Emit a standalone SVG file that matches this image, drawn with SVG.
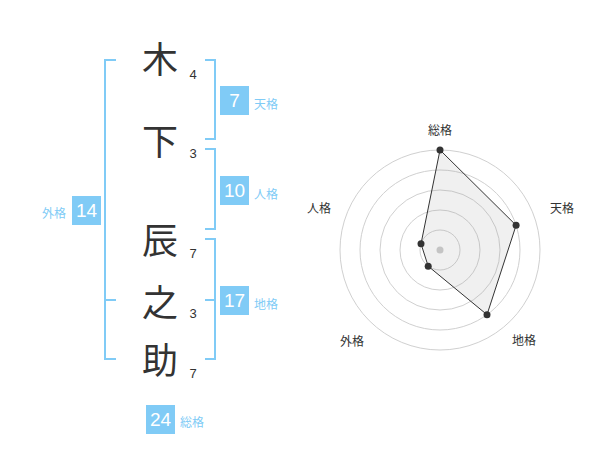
<svg xmlns="http://www.w3.org/2000/svg" width="600" height="470" viewBox="0 0 600 470">
<style>
.br{fill:none;stroke:#80cbf6;stroke-width:2}
.box{fill:#80cbf6}
.bn{font-family:"Liberation Sans",Arial,sans-serif;font-size:19px;fill:#fff;text-anchor:middle}
.lb{font-family:"Noto Sans CJK JP","Noto Sans CJK SC",sans-serif;font-size:12px;fill:#80cbf6}
.kj{font-family:"Noto Sans CJK JP","Noto Sans CJK SC",sans-serif;font-size:36px;fill:#333;text-anchor:middle}
.st{font-family:"Liberation Sans",Arial,sans-serif;font-size:13px;fill:#333;text-anchor:middle}
.rl{font-family:"Noto Sans CJK JP","Noto Sans CJK SC",sans-serif;font-size:12px;fill:#333;text-anchor:middle}
.ring{fill:none;stroke:#d0d0d0;stroke-width:1}
.pt{fill:#333}
</style>
<rect width="600" height="470" fill="#fff"/>
<g id="connectors">
<path class="br" d="M116,60 H105 V359 H116 M105,300 H116"/>
<path class="br" d="M205,60 H215 V139 H205"/>
<path class="br" d="M205,149 H215 V229 H205"/>
<path class="br" d="M205,239 H215 V359 H205 M215,300 H205"/>
</g>
<g id="name-chars">
<g id="c1"><text class="kj" x="160" y="73">木</text><text class="st" x="193" y="79">4</text></g>
<g id="c2"><text class="kj" x="160" y="155">下</text><text class="st" x="193" y="158">3</text></g>
<g id="c3"><text class="kj" x="160" y="254">辰</text><text class="st" x="193" y="258">7</text></g>
<g id="c4"><text class="kj" x="160" y="316">之</text><text class="st" x="193" y="318">3</text></g>
<g id="c5"><text class="kj" x="160" y="374">助</text><text class="st" x="193" y="378">7</text></g>
</g>
<g id="tenkaku"><rect class="box" x="220" y="86" width="29" height="29"/><text class="bn" x="234.5" y="107">7</text><text class="lb" x="254" y="108.5">天格</text></g>
<g id="jinkaku"><rect class="box" x="220" y="176" width="29" height="29"/><text class="bn" x="234.5" y="197">10</text><text class="lb" x="254" y="198.5">人格</text></g>
<g id="gaikaku"><rect class="box" x="72" y="196" width="29" height="29"/><text class="bn" x="86.5" y="217">14</text><text class="lb" x="42" y="218">外格</text></g>
<g id="chikaku"><rect class="box" x="220" y="286" width="29" height="29"/><text class="bn" x="234.5" y="307">17</text><text class="lb" x="254" y="308.5">地格</text></g>
<g id="soukaku"><rect class="box" x="146" y="405" width="29" height="29"/><text class="bn" x="160.5" y="426">24</text><text class="lb" x="180" y="427">総格</text></g>
<g id="radar">
<circle class="ring" cx="440" cy="250" r="20"/>
<circle class="ring" cx="440" cy="250" r="40"/>
<circle class="ring" cx="440" cy="250" r="60"/>
<circle class="ring" cx="440" cy="250" r="80"/>
<circle class="ring" cx="440" cy="250" r="100"/>
<circle cx="440" cy="250" r="3.5" fill="#ccc"/>
<polygon points="440,150 516.1,225.3 487,314.7 428.2,266.2 421,243.8" fill="#999" fill-opacity="0.15" stroke="#333" stroke-width="1"/>
<circle class="pt" cx="440" cy="150" r="3.5"/>
<circle class="pt" cx="516.1" cy="225.3" r="3.5"/>
<circle class="pt" cx="487" cy="314.7" r="3.5"/>
<circle class="pt" cx="428.2" cy="266.2" r="3.5"/>
<circle class="pt" cx="421" cy="243.8" r="3.5"/>
<text class="rl" x="440" y="135">総格</text>
<text class="rl" x="562" y="213">天格</text>
<text class="rl" x="524" y="345">地格</text>
<text class="rl" x="352" y="346">外格</text>
<text class="rl" x="319" y="213">人格</text>
</g>
</svg>
